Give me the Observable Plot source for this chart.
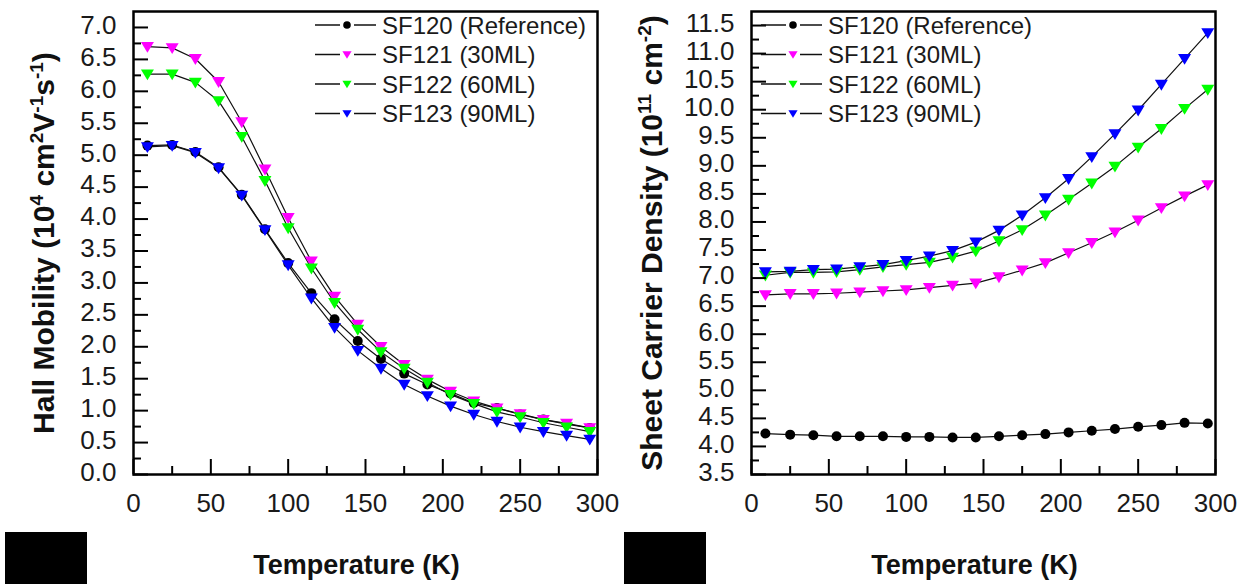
<!DOCTYPE html>
<html><head><meta charset="utf-8">
<script src="https://cdn.jsdelivr.net/npm/d3@7"></script>
<script src="https://cdn.jsdelivr.net/npm/@observablehq/plot@0.6"></script>
<style>
body{margin:0;background:#fff;}
#wrap{position:relative;width:1248px;height:584px;overflow:hidden;background:#fff;font-family:"Liberation Sans",Arial,sans-serif;}
#left,#right{position:absolute;top:0;}
#left{left:0}#right{left:624px}
.blk{position:absolute;background:#000;top:532px;height:52px;width:82px}
</style></head><body>
<div id="wrap"><div id="left"></div><div id="right"></div>
<div class="blk" style="left:5px"></div><div class="blk" style="left:624px"></div></div>
<script>
// ---- data ----
const temperature = [9, 25, 40, 55, 70, 85, 100, 115, 130, 145, 160, 175, 190, 205, 220, 235, 250, 265, 280, 295];
const seriesNames = ["SF120 (Reference)", "SF121 (30ML)", "SF122 (60ML)", "SF123 (90ML)"];
const seriesColors = ["#000000", "#ff00ff", "#00ff00", "#0000ff"];
const seriesSymbols = ["circle", "down", "down", "down"];

// Hall mobility (10^4 cm^2 V^-1 s^-1)
const mobilitySF120 = [5.15, 5.16, 5.05, 4.81, 4.38, 3.84, 3.31, 2.84, 2.43, 2.09, 1.81, 1.58, 1.41, 1.27, 1.12, 1.04, 0.94, 0.86, 0.79, 0.73];
const mobilitySF121 = [6.70, 6.68, 6.51, 6.15, 5.52, 4.78, 4.02, 3.34, 2.79, 2.35, 2.00, 1.72, 1.49, 1.30, 1.15, 1.04, 0.95, 0.86, 0.80, 0.73];
const mobilitySF122 = [6.27, 6.27, 6.14, 5.85, 5.29, 4.60, 3.86, 3.23, 2.69, 2.27, 1.92, 1.66, 1.44, 1.25, 1.11, 0.98, 0.90, 0.81, 0.74, 0.67];
const mobilitySF123 = [5.13, 5.15, 5.04, 4.80, 4.37, 3.83, 3.28, 2.76, 2.30, 1.94, 1.66, 1.41, 1.23, 1.07, 0.94, 0.83, 0.74, 0.67, 0.61, 0.55];

// Sheet carrier density (10^11 cm^-2)
const densitySF120 = [4.23, 4.21, 4.20, 4.18, 4.18, 4.18, 4.17, 4.17, 4.16, 4.16, 4.18, 4.20, 4.22, 4.25, 4.28, 4.31, 4.35, 4.38, 4.42, 4.41];
const densitySF121 = [6.70, 6.72, 6.72, 6.73, 6.75, 6.77, 6.79, 6.83, 6.87, 6.91, 7.02, 7.14, 7.27, 7.45, 7.63, 7.82, 8.03, 8.25, 8.46, 8.66];
const densitySF122 = [7.05, 7.10, 7.10, 7.11, 7.15, 7.20, 7.24, 7.28, 7.37, 7.48, 7.66, 7.86, 8.12, 8.40, 8.69, 8.99, 9.33, 9.66, 10.02, 10.36];
const densitySF123 = [7.11, 7.12, 7.15, 7.16, 7.20, 7.24, 7.31, 7.39, 7.49, 7.64, 7.85, 8.12, 8.43, 8.77, 9.16, 9.57, 9.99, 10.45, 10.91, 11.37];

// ticks
const xMajorTicks = [0, 50, 100, 150, 200, 250, 300];
const xMinorTicks = [25, 75, 125, 175, 225, 275];
const mobilityMajorTicks = d3.range(0, 7.01, 0.5);
const mobilityMinorTicks = d3.range(0.25, 7.2, 0.5);
const densityMajorTicks = d3.range(3.5, 11.51, 0.5);
const densityMinorTicks = d3.range(3.75, 11.7, 0.5);

const xLabel = "Temperature (K)";
const mobilityTitle = [["Hall Mobility (10"], ["4", 1], [" cm"], ["2", 1], ["V"], ["-1", 1], ["s"], ["-1", 1], [")"]];
const densityTitle = [["Sheet Carrier Density (10"], ["11", 1], [" cm"], ["-2", 1], [")"]];

// ---- helpers ----
const FONT = "Liberation Sans, Arial, sans-serif";
const TITLE_SIZE = 30;
const triDown = {
  draw(ctx, size) {
    const r = Math.sqrt(size / Math.PI);
    ctx.moveTo(-r, -0.72 * r);
    ctx.lineTo(r, -0.72 * r);
    ctx.lineTo(0, 0.95 * r);
    ctx.closePath();
  }
};

function toRows(arrays) {
  const rows = [];
  arrays.forEach((vals, s) => temperature.forEach((t, j) => rows.push({T: t, v: vals[j], s})));
  return rows;
}

function panel(el, {arrays, yDomain, yMajor, yMinor, title, ml, mr, titleDx, legendX}) {
  const W = 624, H = 584, mt = 11, mb = 110;
  const pw = W - ml - mr, ph = H - mt - mb;
  const rows = toRows(arrays);
  const plainTitle = title.map(d => d[0]).join("");
  const marks = [
    Plot.line(rows, {x: "T", y: "v", z: "s", stroke: "#111", strokeWidth: 1.2}),
  ];
  [0, 1, 2, 3].forEach(s => {
    const data = rows.filter(d => d.s === s);
    if (seriesSymbols[s] === "circle") {
      marks.push(Plot.dot(data, {x: "T", y: "v", r: 5, fill: seriesColors[s], stroke: "none"}));
    } else {
      marks.push(Plot.dot(data, {x: "T", y: "v", r: 6.5, symbol: triDown, fill: seriesColors[s], stroke: "none"}));
    }
  });
  marks.push(
    Plot.tickY(yMinor, {y: d => d, insetRight: pw - 8, stroke: "#000", strokeWidth: 2}),
    Plot.tickY(yMajor, {y: d => d, insetRight: pw - 15, stroke: "#000", strokeWidth: 2}),
    Plot.tickX(xMinorTicks, {x: d => d, insetTop: ph - 8, stroke: "#000", strokeWidth: 2}),
    Plot.tickX(xMajorTicks, {x: d => d, insetTop: ph - 15, stroke: "#000", strokeWidth: 2}),
    Plot.frame({stroke: "#000", strokeWidth: 2.5}),
    Plot.axisY(yMajor, {tickSize: 0, tickPadding: 17, fontSize: 26, tickFormat: d => d.toFixed(1), label: null, fill: "#1a1a1a", dy: -2}),
    Plot.axisX(xMajorTicks, {tickSize: 0, tickPadding: 19, fontSize: 26, label: null, fill: "#1a1a1a"}),
    Plot.text([xLabel], {frameAnchor: "bottom", dy: 99, dx: -9, fontSize: 27, fontWeight: "bold", fill: "#111"}),
    Plot.text([plainTitle], {frameAnchor: "left", textAnchor: "middle", dx: titleDx, rotate: -90, fontSize: TITLE_SIZE, fontWeight: "bold", fill: "#111"})
  );
  const svg = Plot.plot({
    width: W, height: H,
    marginLeft: ml, marginRight: mr, marginTop: mt, marginBottom: mb,
    style: {fontFamily: FONT, background: "white", overflow: "visible"},
    x: {domain: [0, 300], label: null},
    y: {domain: yDomain, label: null},
    marks
  });
  // rich (superscript) y title
  const t = d3.select(svg).selectAll("text").filter(function() { return this.textContent === plainTitle; });
  t.text(null).attr("text-anchor", "middle");
  let up = false;
  const shift = 11;
  for (const [s, sup] of title) {
    const ts = t.append("tspan").text(s);
    if (sup) { ts.attr("font-size", 19).attr("dy", up ? 0 : -shift); up = true; }
    else { ts.attr("font-size", TITLE_SIZE).attr("dy", up ? shift : 0); up = false; }
  }
  // legend
  const g = d3.select(svg).append("g").attr("font-family", FONT).attr("text-anchor", "start");
  seriesNames.forEach((name, i) => {
    const y = mt + 14 + i * 29.5;
    g.append("line").attr("x1", legendX - 32).attr("x2", legendX - 7).attr("y1", y).attr("y2", y).attr("stroke", "#111").attr("stroke-width", 1.5);
    g.append("line").attr("x1", legendX + 7).attr("x2", legendX + 29).attr("y1", y).attr("y2", y).attr("stroke", "#111").attr("stroke-width", 1.5);
    if (seriesSymbols[i] === "circle") {
      g.append("circle").attr("cx", legendX).attr("cy", y).attr("r", 3.8).attr("fill", seriesColors[i]);
    } else {
      g.append("path").attr("d", d3.symbol(triDown, Math.PI * 4.6 * 4.6)()).attr("transform", `translate(${legendX},${y})`).attr("fill", seriesColors[i]);
    }
    g.append("text").attr("x", legendX + 35).attr("y", y).attr("dy", "0.36em").attr("text-anchor", "start").attr("font-size", 24).attr("fill", "#1a1a1a").text(name);
  });
  document.getElementById(el).append(svg);
}

panel("left", {
  arrays: [mobilitySF120, mobilitySF121, mobilitySF122, mobilitySF123],
  yDomain: [0, 7.25], yMajor: mobilityMajorTicks, yMinor: mobilityMinorTicks,
  title: mobilityTitle, ml: 133, mr: 27, titleDx: -89, legendX: 347
});
panel("right", {
  arrays: [densitySF120, densitySF121, densitySF122, densitySF123],
  yDomain: [3.5, 11.75], yMajor: densityMajorTicks, yMinor: densityMinorTicks,
  title: densityTitle, ml: 127, mr: 33, titleDx: -99, legendX: 169
});
</script></body></html>
